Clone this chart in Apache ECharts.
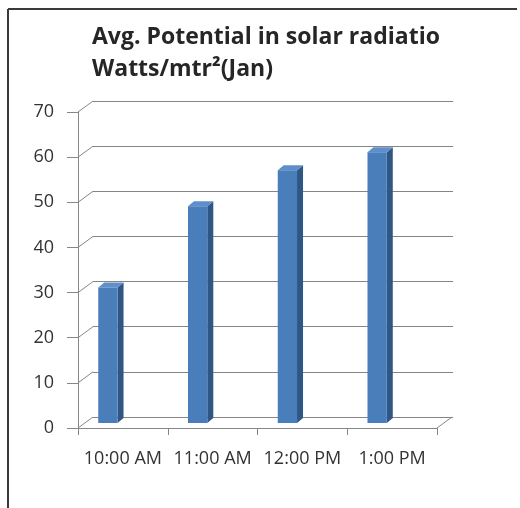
<!DOCTYPE html>
<html>
<head>
<meta charset="utf-8">
<script src="https://cdn.jsdelivr.net/npm/echarts@6/dist/echarts.min.js"></script>
<style>
  html, body { margin: 0; padding: 0; background: #fff; }
  #chart { width: 520px; height: 508px; }
</style>
</head>
<body>
<div id="chart"></div>
<script>
// chart data
var categories = ['10:00 AM', '11:00 AM', '12:00 PM', '1:00 PM']
var values = [30, 48, 56, 60]
var yTicks = [0, 10, 20, 30, 40, 50, 60, 70]

var FONT = '"Open Sans", "Noto Sans", sans-serif'
var DEPTH_X = 15, DEPTH_Y = 11   // back wall offset (perspective)

var chart = echarts.init(document.getElementById('chart'))

var option = {
  animation: false,
  backgroundColor: '#fff',
  title: {
    text: 'Avg. Potential in solar radiatio\nWatts/mtr\u00b2(Jan)',
    left: 92,
    top: 21,
    padding: 0,
    textStyle: {
      fontFamily: FONT,
      fontSize: 23,
      fontWeight: 'bold',
      color: '#262626',
      lineHeight: 32
    }
  },
  graphic: [
    // outer frame (top and left edges only are visible)
    { type: 'line', shape: { x1: 8, y1: 9, x2: 517, y2: 9 }, style: { stroke: '#3a3a3a', lineWidth: 2 } },
    { type: 'line', shape: { x1: 8, y1: 9, x2: 8, y2: 508 }, style: { stroke: '#3a3a3a', lineWidth: 2 } }
  ],
  grid: [
    // back wall
    { left: 93, top: 101, width: 360, height: 316 },
    // front plane
    { left: 78, top: 112, width: 359, height: 316 }
  ],
  xAxis: [
    {
      type: 'category', gridIndex: 0, data: categories,
      axisLine: { show: false }, axisTick: { show: false }, axisLabel: { show: false }
    },
    {
      type: 'category', gridIndex: 1, data: categories,
      axisLine: { show: true, lineStyle: { color: '#868686', width: 1 } },
      axisTick: { show: true, length: 7, alignWithLabel: false, lineStyle: { color: '#868686' } },
      axisLabel: {
        interval: 0, margin: 22,
        fontFamily: FONT, fontSize: 18, color: '#333'
      }
    }
  ],
  yAxis: [
    {
      type: 'value', gridIndex: 0, min: 0, max: 70, interval: 10,
      axisLine: { show: false }, axisTick: { show: false }, axisLabel: { show: false },
      splitLine: { show: true, lineStyle: { color: '#858585', width: 1 } }
    },
    {
      type: 'value', gridIndex: 1, min: 0, max: 70, interval: 10,
      axisLine: { show: true, lineStyle: { color: '#868686', width: 1 } },
      axisTick: { show: true, length: 11, lineStyle: { color: '#868686' } },
      axisLabel: { margin: 24, fontFamily: FONT, fontSize: 18, color: '#333' },
      splitLine: { show: false }
    }
  ],
  series: [
    {
      // diagonal connectors between front axes and back wall
      type: 'custom',
      xAxisIndex: 1, yAxisIndex: 1,
      clip: false,
      silent: true,
      data: yTicks.map(function (v) { return [0, v] }),
      renderItem: function (params, api) {
        var y = api.coord([0, api.value(1)])[1]
        var x0 = params.coordSys.x
        var lineStyle = { stroke: '#868686', lineWidth: 1 }
        var children = [{
          type: 'line',
          shape: { x1: x0, y1: y, x2: x0 + DEPTH_X, y2: y - DEPTH_Y },
          style: lineStyle
        }]
        if (api.value(1) === 0) {
          var x1 = params.coordSys.x + params.coordSys.width
          children.push({
            type: 'line',
            shape: { x1: x1, y1: y, x2: x1 + DEPTH_X, y2: y - DEPTH_Y },
            style: lineStyle
          })
        }
        return { type: 'group', children: children }
      }
    },
    {
      // 3D style bars
      type: 'custom',
      xAxisIndex: 1, yAxisIndex: 1,
      clip: false,
      data: values.map(function (v, i) { return [i, v] }),
      renderItem: function (params, api) {
        var base = api.coord([api.value(0), 0])
        var top = api.coord([api.value(0), api.value(1)])
        var band = api.size([1, 0])[0]
        var w = band * 0.215
        var cx = base[0] - band * 0.167
        var dx = 6, dy = 5
        var shiftY = 5
        var xl = cx - w / 2, xr = cx + w / 2
        var t = top[1] - shiftY, b = base[1] - shiftY
        return {
          type: 'group',
          children: [
            {
              type: 'polygon',
              shape: { points: [[xr, t], [xr + dx, t - dy], [xr + dx, b - dy], [xr, b]] },
              style: { fill: '#2f5685' }
            },
            {
              type: 'polygon',
              shape: { points: [[xl, t], [xl + dx, t - dy], [xr + dx, t - dy], [xr, t]] },
              style: { fill: '#5f8fcb' }
            },
            {
              type: 'rect',
              shape: { x: xl, y: t, width: w, height: b - t },
              style: { fill: '#4a7ebb' }
            }
          ]
        }
      }
    }
  ]
}

chart.setOption(option)
</script>
</body>
</html>
